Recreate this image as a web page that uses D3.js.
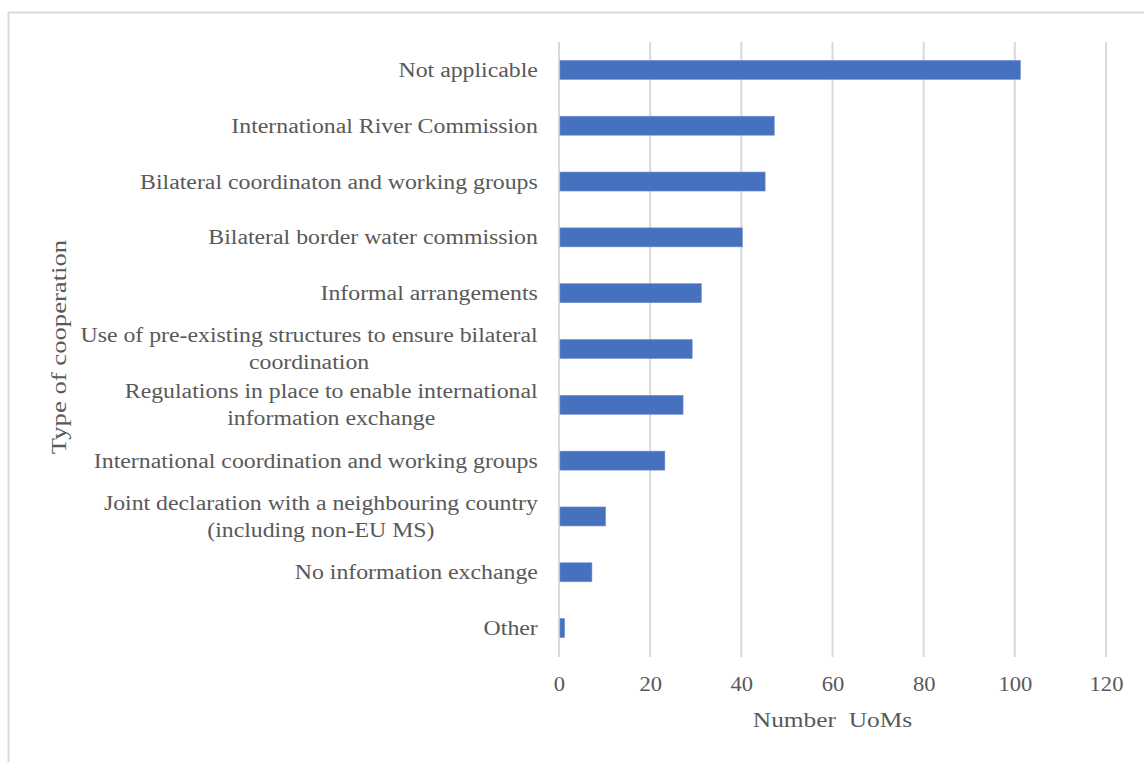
<!DOCTYPE html>
<html>
<head>
<meta charset="utf-8">
<script src="https://cdn.jsdelivr.net/npm/d3@7"></script>
<style>
html,body{margin:0;padding:0;background:#fff;}
svg{display:block;}
text{font-family:"Liberation Serif","Times New Roman",serif;fill:#595959;}
</style>
</head>
<body>
<svg id="chart" width="1144" height="762"></svg>
<script>
const categories = [
  "Not applicable",
  "International River Commission",
  "Bilateral coordinaton and working groups",
  "Bilateral border water commission",
  "Informal arrangements",
  "Use of pre-existing structures to ensure bilateral\ncoordination",
  "Regulations in place to enable international\ninformation exchange",
  "International coordination and working groups",
  "Joint declaration with a neighbouring country\n(including non-EU MS)",
  "No information exchange",
  "Other"
];
const values = [101, 47, 45, 40, 31, 29, 27, 23, 10, 7, 1];
const xTicks = [0, 20, 40, 60, 80, 100, 120];
const xTitle = "Number  UoMs";
const yTitle = "Type of cooperation";

const svg = d3.select("#chart");
const W = 1144, H = 762;
const m = {left: 559, right: 38, top: 42, bottom: 106};

// frame (top + left border)
svg.append("line").attr("x1", 8).attr("x2", W).attr("y1", 12.5).attr("y2", 12.5)
  .attr("stroke", "#d9d9d9").attr("stroke-width", 2);
svg.append("line").attr("x1", 8.5).attr("x2", 8.5).attr("y1", 12).attr("y2", H)
  .attr("stroke", "#d9d9d9").attr("stroke-width", 2);

const x = d3.scaleLinear().domain([0, 120]).range([m.left, W - m.right]);
const y = d3.scaleBand().domain(categories).range([m.top, H - m.bottom]).paddingInner(0.66).paddingOuter(0.33);

// gridlines
svg.append("g").selectAll("line").data(xTicks).join("line")
  .attr("x1", d => x(d)).attr("x2", d => x(d))
  .attr("y1", m.top).attr("y2", H - m.bottom + 1)
  .attr("stroke", "#d9d9d9").attr("stroke-width", 2);

// bars
svg.append("g").selectAll("rect").data(values).join("rect")
  .attr("x", x(0) + 1)
  .attr("y", (d, i) => y(categories[i]))
  .attr("width", d => x(d) - x(0))
  .attr("height", y.bandwidth())
  .attr("fill", "#4571be")
  .attr("stroke", "#6f8fd0").attr("stroke-width", 0.6);

// x axis labels
const xAxis = d3.axisBottom(x).tickValues(xTicks).tickSize(0).tickPadding(0);
const gx = svg.append("g").attr("transform", `translate(0,${H - m.bottom + 21})`).call(xAxis);
gx.select(".domain").remove();
gx.selectAll("text").attr("font-size", 20).attr("dy", "0.71em")
  .attr("transform", "scale(1.13,1)")
  .style("font-family", '"Liberation Serif",serif').attr("fill", "#595959");

// y axis labels (multiline, centered block right-aligned)
const yAxis = d3.axisLeft(y).tickSize(0).tickPadding(0).tickFormat("");
const gy = svg.append("g").attr("transform", `translate(${m.left},0)`).call(yAxis);
gy.select(".domain").remove();
const labG = svg.append("g");
const sx = 1.19;
categories.forEach((c, i) => {
  const lines = c.split("\n");
  const cy = y(c) + y.bandwidth() / 2;
  const t = labG.append("text").attr("font-size", 20).attr("text-anchor", "middle");
  const lh = 27;
  lines.forEach((ln, j) => {
    t.append("tspan").attr("x", 0).attr("y", cy + (j - (lines.length - 1) / 2) * lh).attr("dy", "0.35em").text(ln);
  });
  const bb = t.node().getBBox();
  const rightEdge = 538;
  t.attr("transform", `translate(${rightEdge - bb.width * sx / 2},0) scale(${sx},1)`);
});

// axis titles
svg.append("text").attr("transform", `translate(${(x(0) + x(120)) / 2},727) scale(1.21,1)`)
  .attr("text-anchor", "middle").attr("font-size", 21).style("white-space", "pre").text(xTitle);
svg.append("text").attr("transform", `translate(66,347) rotate(-90) scale(1.27,1)`)
  .attr("text-anchor", "middle").attr("font-size", 21).text(yTitle);
</script>
</body>
</html>
